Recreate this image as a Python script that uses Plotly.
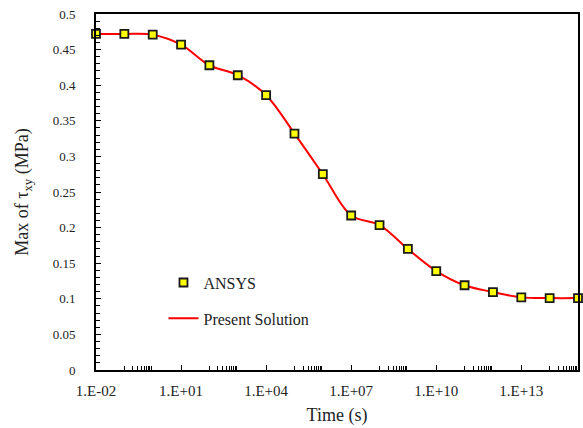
import plotly.graph_objects as go

# Data
time_s = [1e-2, 1e-1, 1e0, 1e1, 1e2, 1e3, 1e4, 1e5, 1e6, 1e7, 1e8, 1e9,
          1e10, 1e11, 1e12, 1e13, 1e14, 1e15]
ansys = [0.472, 0.472, 0.471, 0.457, 0.428, 0.414, 0.386, 0.332, 0.275,
         0.217, 0.2035, 0.170, 0.139, 0.119, 0.1095, 0.102, 0.101, 0.101]
present = ansys[:]  # solution curve coincides with ANSYS points

x_tickvals = [1e-2, 1e1, 1e4, 1e7, 1e10, 1e13]
x_ticktext = ["1.E-02", "1.E+01", "1.E+04", "1.E+07", "1.E+10", "1.E+13"]
x_minor = [m * 10 ** d for d in (-1, 2, 5, 8, 11, 14) for m in range(1, 10)]

FONT = "Liberation Serif"

fig = go.Figure()
fig.add_trace(go.Scatter(
    x=time_s, y=present, mode="lines", name="Present Solution",
    line=dict(color="#FF0000", width=2, shape="spline", smoothing=1.0),
    legendgroup="b", legendrank=2,
))
fig.add_trace(go.Scatter(
    x=time_s, y=ansys, mode="markers", name="ANSYS",
    marker=dict(symbol="square", size=8, color="#FFFF00",
                line=dict(color="#1a1a1a", width=1.8)),
    cliponaxis=False, legendgroup="a", legendrank=1,
))

fig.update_layout(
    width=583, height=428,
    margin=dict(l=96, r=3, t=14, b=58),
    paper_bgcolor="white", plot_bgcolor="white",
    font=dict(family=FONT, color="#222222"),
    showlegend=True,
    legend=dict(x=0.14, y=0.195, xanchor="left", yanchor="middle",
                bgcolor="rgba(0,0,0,0)", font=dict(size=16, family=FONT),
                traceorder="grouped", tracegroupgap=12),
)
fig.update_xaxes(
    type="log", range=[-2, 15],
    tickmode="array", tickvals=x_tickvals, ticktext=x_ticktext,
    ticks="inside", ticklen=5, tickwidth=1, tickcolor="black",
    minor=dict(tickmode="array", tickvals=x_minor, ticks="inside",
               ticklen=4, tickwidth=1, tickcolor="black", showgrid=False),
    showgrid=False, zeroline=False,
    showline=True, linecolor="black", linewidth=2, mirror=True,
    tickfont=dict(size=15, family=FONT, color="#222222"),
    ticklabelstandoff=6,
    title=dict(text="Time (s)", font=dict(size=18, family=FONT, color="#222222"),
               standoff=10),
)
fig.update_yaxes(
    range=[0, 0.5], dtick=0.05, tick0=0,
    ticks="inside", ticklen=5, tickwidth=1, tickcolor="black",
    minor=dict(dtick=0.01, ticks="inside", ticklen=4, tickwidth=1,
               tickcolor="black", showgrid=False),
    showgrid=False, zeroline=False,
    showline=True, linecolor="black", linewidth=2, mirror=True,
    tickfont=dict(size=13, family=FONT, color="#222222"),
    ticklabelstandoff=16,
    tickformat="~g",
    title=dict(text="Max of τ<sub>xy</sub> (MPa)",
               font=dict(size=18, family=FONT, color="#222222"), standoff=19),
)

fig.write_html("out.html")
